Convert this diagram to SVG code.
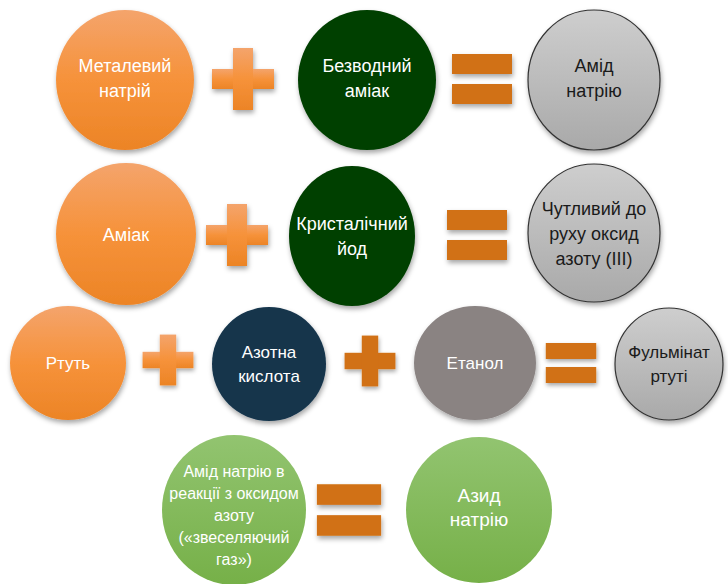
<svg xmlns="http://www.w3.org/2000/svg" width="728" height="584" viewBox="0 0 728 584">
<defs>
<linearGradient id="gOr" x1="0" y1="0" x2="0" y2="1"><stop offset="0" stop-color="#F4A46C"/><stop offset="0.5" stop-color="#F6923A"/><stop offset="1" stop-color="#EC8426"/></linearGradient>
<linearGradient id="gGy" x1="0" y1="0" x2="0" y2="1"><stop offset="0" stop-color="#CECECE"/><stop offset="1" stop-color="#A9A9A9"/></linearGradient>
<linearGradient id="gGr" x1="0" y1="0" x2="0" y2="1"><stop offset="0" stop-color="#92C470"/><stop offset="1" stop-color="#76B048"/></linearGradient>
<filter id="sh" x="-20%" y="-20%" width="140%" height="140%"><feDropShadow dx="1" dy="3" stdDeviation="2.5" flood-color="#000" flood-opacity="0.35"/></filter>
<g id="plus"><rect x="-31" y="-10" width="62" height="20"/><rect x="-10" y="-31" width="20" height="62"/></g>
<g id="eq"><rect x="-30" y="-25" width="60" height="20"/><rect x="-30" y="5" width="60" height="20"/></g>
</defs>
<style>
text{font-family:"Liberation Sans","Open Sans",sans-serif;text-anchor:middle;}
.w{fill:#fff;}
.d{fill:#1a1a1a;}
.or{fill:url(#gOr);filter:url(#sh);}
.dg{fill:#053F05;filter:url(#sh);}
.gy{fill:url(#gGy);stroke:#333;stroke-width:1.2;filter:url(#sh);}
.nv{fill:#14344C;filter:url(#sh);}
.et{fill:#8A8382;filter:url(#sh);}
.gr{fill:url(#gGr);}
.op{fill:url(#gOr);filter:url(#sh);}
.od{fill:#D17115;filter:url(#sh);}
.f18{font-size:18px;}
.f17{font-size:17px;}
.f16{font-size:16px;}
.f19{font-size:19px;}
</style>
<g id="connectors">
<use href="#plus" x="243" y="79" class="op"/>
<use href="#eq" x="482" y="79" class="od"/>
<use href="#plus" x="237" y="235" class="op"/>
<use href="#eq" x="477" y="235" class="od"/>
<use href="#plus" x="168" y="360" transform="translate(168 360) scale(0.82) translate(-168 -360)" class="op"/>
<use href="#plus" x="370" y="361" transform="translate(370 361) scale(0.82) translate(-370 -361)" class="od"/>
<use href="#eq" x="571" y="363" transform="translate(571 363) scale(0.84 0.8) translate(-571 -363)" class="od"/>
<use href="#eq" x="349" y="510" transform="translate(349 510) scale(1.07 1.03) translate(-349 -510)" class="od"/>
</g>
<g id="n1"><ellipse cx="125" cy="80" rx="69" ry="70" class="or"/><text class="w f18" x="125" y="72">Металевий</text><text class="w f18" x="125" y="97">натрій</text></g>
<g id="n2"><ellipse cx="367" cy="80" rx="69" ry="70" class="dg"/><text class="w f18" x="367" y="72">Безводний</text><text class="w f18" x="367" y="97">аміак</text></g>
<g id="n3"><ellipse cx="594" cy="80" rx="66" ry="70" class="gy"/><text class="d f18" x="594" y="72">Амід</text><text class="d f18" x="594" y="97">натрію</text></g>
<g id="n4"><ellipse cx="126" cy="234" rx="70" ry="71" class="or"/><text class="w f18" x="126" y="241">Аміак</text></g>
<g id="n5"><ellipse cx="352" cy="236" rx="63" ry="70" class="dg"/><text class="w f18" x="352" y="230">Кристалічний</text><text class="w f18" x="352" y="255">йод</text></g>
<g id="n6"><ellipse cx="594" cy="233" rx="66" ry="69" class="gy"/><text class="d f18" x="594" y="215">Чутливий до</text><text class="d f18" x="594" y="240">руху оксид</text><text class="d f18" x="594" y="265">азоту (III)</text></g>
<g id="n7"><ellipse cx="68" cy="363" rx="58" ry="57" class="or"/><text class="w f17" x="68" y="369">Ртуть</text></g>
<g id="n8"><ellipse cx="269" cy="364" rx="57" ry="57" class="nv"/><text class="w f17" x="269" y="358">Азотна</text><text class="w f17" x="269" y="382">кислота</text></g>
<g id="n9"><ellipse cx="475" cy="363" rx="61" ry="57" class="et"/><text class="w f17" x="475" y="369">Етанол</text></g>
<g id="n10"><ellipse cx="669" cy="364" rx="54" ry="56" class="gy"/><text class="d f17" x="669" y="358">Фульмінат</text><text class="d f17" x="669" y="382">ртуті</text></g>
<g id="n11"><ellipse cx="234" cy="510" rx="72" ry="75" class="gr"/><text class="w f16" x="234" y="477">Амід натрію в</text><text class="w f16" x="234" y="499">реакції з оксидом</text><text class="w f16" x="234" y="521">азоту</text><text class="w f16" x="234" y="543">(«звеселяючий</text><text class="w f16" x="234" y="565">газ»)</text></g>
<g id="n12"><ellipse cx="479" cy="510" rx="73" ry="73" class="gr"/><text class="w f19" x="479" y="502">Азид</text><text class="w f19" x="479" y="526">натрію</text></g>
</svg>
